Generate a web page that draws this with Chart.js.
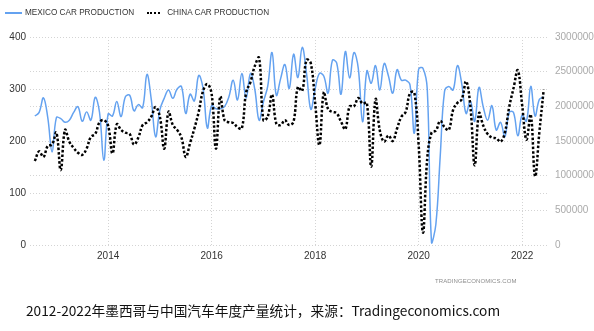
<!DOCTYPE html>
<html lang="zh">
<head>
<meta charset="UTF-8">
<title>墨西哥与中国汽车产量</title>
<script src="https://cdn.jsdelivr.net/npm/chart.js"></script>
<style>
  html, body { margin: 0; padding: 0; background: #fff; }
  .wrap { position: relative; width: 594px; height: 331px; overflow: hidden; }
  #chart { position: absolute; left: 0; top: 0; }
  .legend { position: absolute; left: 5px; top: 8px; display: flex; align-items: center;
            font: 8.2px "Liberation Sans", Arial, sans-serif; color: #333; white-space: nowrap; }
  .legend .item { display: flex; align-items: center; margin-right: 13px; }
  .legend .sample { display: inline-block; margin-right: 3px; }
  .brand { position: absolute; left: 435px; top: 278px; font: 6px "Liberation Sans", Arial, sans-serif;
           color: #8c8c8c; letter-spacing: 0.1px; }
  .caption { position: absolute; left: 26px; top: 302px; font: 13.7px "Noto Sans CJK SC", sans-serif;
             line-height: 16px; color: #111; white-space: nowrap; }
</style>
</head>
<body>
<div class="wrap">
  <canvas id="chart" width="594" height="331"></canvas>
  <div class="legend" id="legend"></div>
  <div class="brand">TRADINGECONOMICS.COM</div>
  <div class="caption">2012-2022年墨西哥与中国汽车年度产量统计，来源：Tradingeconomics.com</div>
</div>

<script>
// monthly series, first value = Aug 2012, last = Jun 2022
const startYear = 2012;
const startMonth = 8;

// Mexico car production (thousand units, left axis)
const mexico = [
  248, 255, 283, 245, 179,
  245, 243, 236, 240, 255, 266, 238, 256, 240, 284, 255, 163,
  252, 248, 276, 247, 285, 288, 258, 270, 264, 328, 280, 208,
  260, 282, 298, 282, 300, 305, 253, 290, 277, 326, 302, 225,
  268, 262, 262, 266, 285, 317, 279, 330, 282, 330, 300, 240,
  275, 305, 370, 288, 320, 347, 301, 367, 322, 380, 330, 261,
  300, 330, 325, 292, 355, 350, 290, 372, 321, 370, 340, 237,
  335, 311, 345, 298, 349, 325, 292, 337, 317, 317, 308, 215,
  338, 340, 300, 4, 40, 170, 295, 305, 298, 345, 310, 253,
  277, 238, 303, 265, 240, 268, 221, 236, 208, 255, 255, 210,
  250, 238, 305, 248, 280, 285
];

// China car production (units, right axis)
const china = [
  1210000, 1350000, 1270000, 1430000, 1450000,
  1620000, 1080000, 1660000, 1490000, 1400000, 1330000, 1300000, 1390000, 1560000, 1600000, 1770000, 1800000,
  1720000, 1320000, 1740000, 1660000, 1620000, 1600000, 1450000, 1550000, 1730000, 1770000, 1850000, 1990000,
  1850000, 1390000, 1920000, 1730000, 1660000, 1550000, 1270000, 1470000, 1680000, 1920000, 2220000, 2320000,
  2180000, 1390000, 2140000, 1800000, 1770000, 1760000, 1700000, 1680000, 2200000, 2350000, 2580000, 2700000,
  1800000, 1850000, 2170000, 1750000, 1730000, 1800000, 1730000, 1780000, 2280000, 2220000, 2670000, 2620000,
  2050000, 1440000, 2200000, 1960000, 1920000, 1900000, 1780000, 1670000, 2000000, 2000000, 2120000, 2040000,
  2050000, 1130000, 2100000, 1650000, 1490000, 1580000, 1500000, 1680000, 1850000, 1920000, 2190000, 2200000,
  1450000, 180000, 1250000, 1620000, 1650000, 1790000, 1700000, 1660000, 1950000, 2050000, 2100000, 2360000,
  2000000, 1150000, 1900000, 1720000, 1600000, 1550000, 1540000, 1490000, 1620000, 1990000, 2260000, 2520000,
  2020000, 1520000, 1880000, 990000, 1630000, 2240000
];

const yearTicks = [2014, 2016, 2018, 2020, 2022];
const yearLabels = ['2014', '2016', '2018', '2020', '2022'];
const mexicoTicks = [0, 100, 200, 300, 400];
const chinaTicks = [0, 500000, 1000000, 1500000, 2000000, 2500000, 3000000];

const seriesNames = ['MEXICO CAR PRODUCTION', 'CHINA CAR PRODUCTION'];

const axisFont = { family: '"Liberation Sans", Arial, sans-serif', size: 10 };

function toPoints(values) {
  return values.map((v, i) => ({ x: startYear + (startMonth - 1 + i) / 12, y: v }));
}

const gridStyle = { color: '#d4d4d4', lineWidth: 1, drawTicks: false };
const gridBorder = { display: false, dash: [1, 2] };

const chart = new Chart(document.getElementById('chart'), {
  type: 'line',
  data: {
    datasets: [
      {
        label: seriesNames[0],
        data: toPoints(mexico),
        yAxisID: 'y',
        borderColor: '#64a2f0',
        borderWidth: 1.5,
        tension: 0.4,
        clip: false,
        order: 2
      },
      {
        label: seriesNames[1],
        data: toPoints(china),
        yAxisID: 'y1',
        borderColor: '#000000',
        borderWidth: 2.5,
        borderDash: [2.5, 2],
        tension: 0.4,
        order: 1
      }
    ]
  },
  options: {
    responsive: false,
    animation: false,
    devicePixelRatio: 1,
    layout: { padding: { top: 37, left: 0, right: 0, bottom: 66 } },
    elements: { point: { radius: 0 } },
    plugins: { legend: { display: false }, tooltip: { enabled: false } },
    scales: {
      x: {
        type: 'linear',
        min: 2012.49,
        max: 2022.5,
        afterBuildTicks: s => { s.ticks = yearTicks.map(v => ({ value: v })); },
        afterFit: s => { s.height = 20; },
        ticks: {
          autoSkip: false, maxRotation: 0, padding: 5, color: '#333', font: axisFont,
          callback: (v, i) => yearLabels[i]
        },
        grid: gridStyle,
        border: gridBorder
      },
      y: {
        position: 'left',
        min: 0,
        max: 400,
        afterBuildTicks: s => { s.ticks = mexicoTicks.map(v => ({ value: v })); },
        afterFit: s => { s.width = 30; },
        ticks: { padding: 4, color: '#333', font: axisFont },
        grid: gridStyle,
        border: gridBorder
      },
      y1: {
        position: 'right',
        min: 0,
        max: 3000000,
        afterBuildTicks: s => { s.ticks = chinaTicks.map(v => ({ value: v })); },
        afterFit: s => { s.width = 46; },
        ticks: { padding: 7, color: '#aaa', font: axisFont, callback: v => String(v) },
        grid: gridStyle,
        border: gridBorder
      }
    }
  }
});

// html legend from the datasets
const legend = document.getElementById('legend');
chart.data.datasets.forEach((ds, i) => {
  const item = document.createElement('span');
  item.className = 'item';
  const sample = document.createElement('span');
  sample.className = 'sample';
  sample.style.width = i === 0 ? '17px' : '13px';
  sample.style.borderTop = ds.borderDash ? '2px dotted ' + ds.borderColor : '2px solid ' + ds.borderColor;
  if (ds.borderDash) sample.style.marginRight = '7px';
  item.appendChild(sample);
  item.appendChild(document.createTextNode(ds.label));
  legend.appendChild(item);
});
</script>
</body>
</html>
